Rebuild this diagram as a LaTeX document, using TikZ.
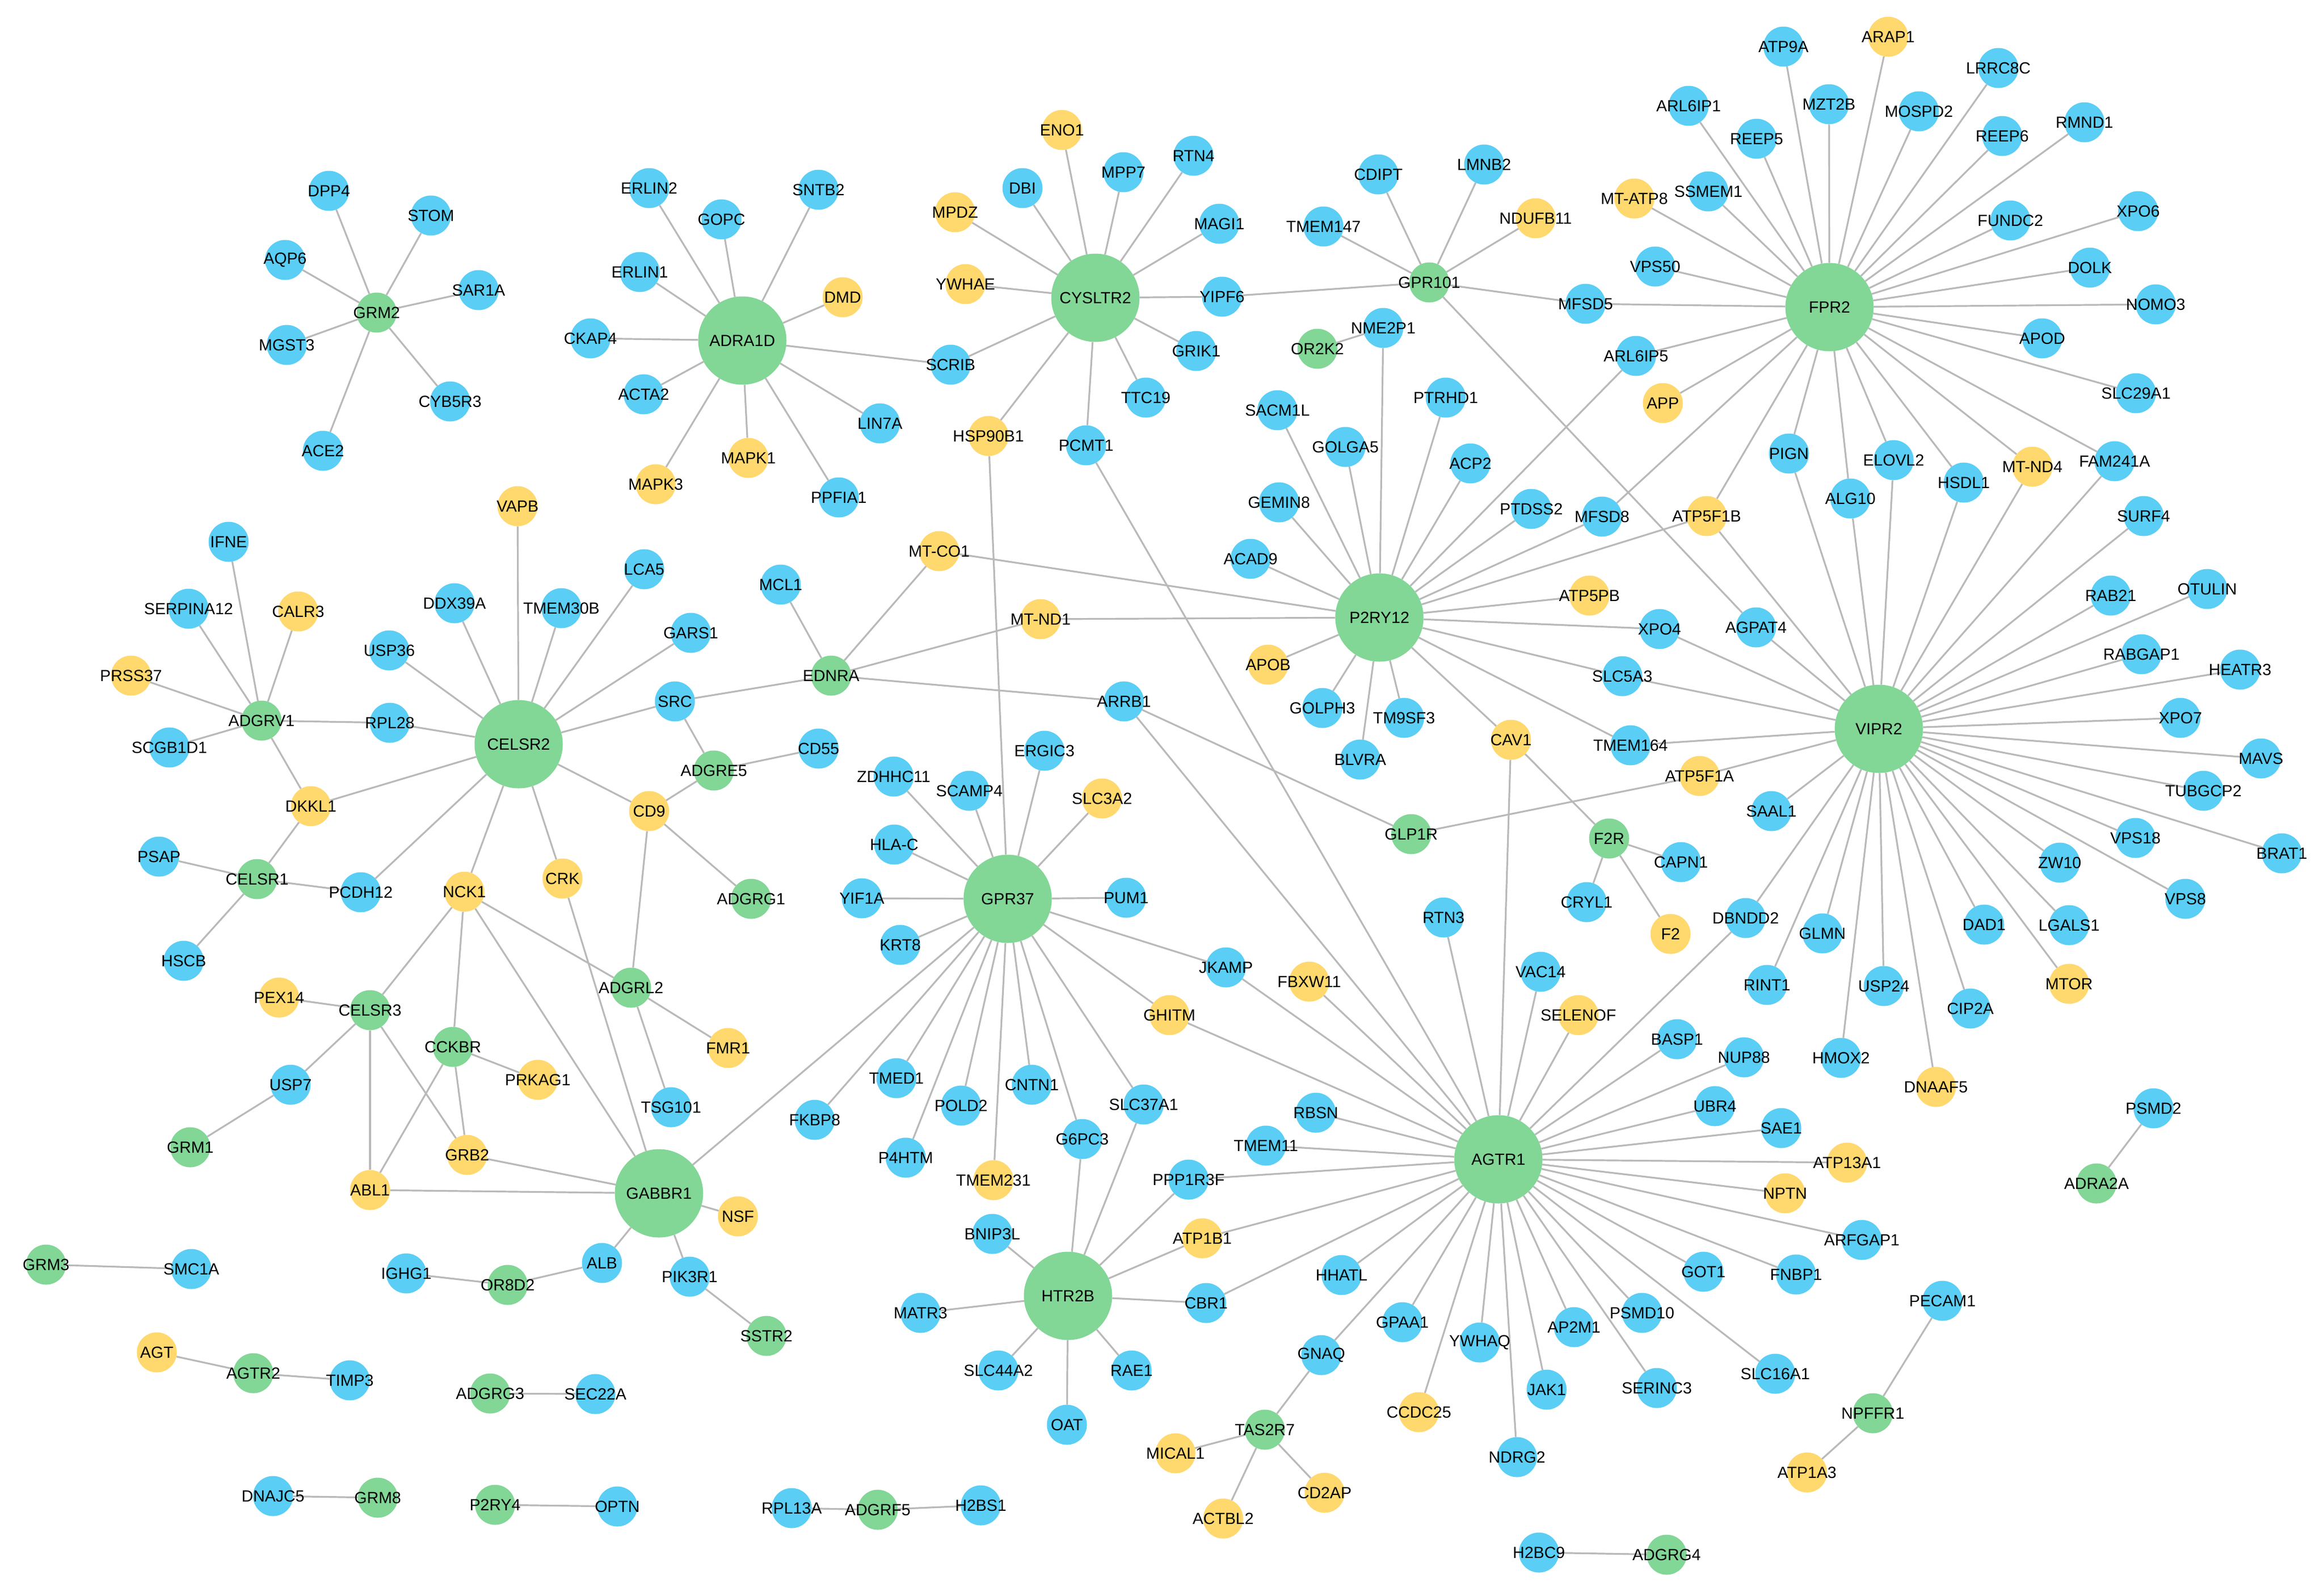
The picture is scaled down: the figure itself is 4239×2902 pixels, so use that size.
\documentclass[tikz,border=0pt]{standalone}
\usepackage{fontspec}
\setmainfont{Liberation Sans}
\usetikzlibrary{backgrounds}
\definecolor{cblue}{RGB}{90,206,245}
\definecolor{cgreen}{RGB}{130,214,150}
\definecolor{cyel}{RGB}{255,216,110}
\definecolor{cedge}{RGB}{185,185,185}
\newcommand\labfont{\fontsize{29.5}{32}\selectfont}
\newcommand\mknode[4]{\node[#1,label={[lab]center:#2}] (#2) at (#3,#4) {};}
\newcommand\mkedges[2]{\foreach \tgt in {#2} {\draw[edge] (#1) -- (\tgt);}}
\tikzset{
  nd/.style={circle, inner sep=0pt, minimum size=73pt, draw=none},
  bl/.style={nd, fill=cblue},
  ye/.style={nd, fill=cyel},
  gr/.style={nd, fill=cgreen},
  hub/.style={nd, fill=cgreen, minimum size=161pt},
  lab/.style={font=\labfont, text=black, inner sep=0pt},
  edge/.style={draw=cedge, line width=3.2pt}
}
\begin{document}
\begin{tikzpicture}[x=1pt,y=-1pt]
\useasboundingbox (0,0) rectangle (4239,2902);
% GRM2 cluster
\mknode{gr}{GRM2}{687}{570}
\mknode{bl}{DPP4}{600}{348}
\mknode{bl}{STOM}{786}{393}
\mknode{bl}{AQP6}{520}{474}
\mknode{bl}{SAR1A}{873}{529}
\mknode{bl}{MGST3}{523}{629}
\mknode{bl}{CYB5R3}{821}{732}
\mknode{bl}{ACE2}{589}{822}
% ADRA1D
\mknode{hub}{ADRA1D}{1354}{621}
\mknode{bl}{CKAP4}{1077}{617}
\mknode{bl}{ERLIN2}{1184}{343}
\mknode{bl}{GOPC}{1316}{400}
\mknode{bl}{SNTB2}{1493}{346}
\mknode{bl}{ERLIN1}{1167}{496}
\mknode{ye}{DMD}{1537}{542}
\mknode{bl}{ACTA2}{1174}{719}
\mknode{bl}{LIN7A}{1605}{772}
\mknode{ye}{MAPK1}{1365}{835}
\mknode{ye}{MAPK3}{1196}{883}
\mknode{bl}{PPFIA1}{1530}{907}
\mknode{bl}{SCRIB}{1734}{665}
% CYSLTR2
\mknode{hub}{CYSLTR2}{1998}{543}
\mknode{ye}{ENO1}{1937}{237}
\mknode{bl}{DBI}{1865}{343}
\mknode{bl}{MPP7}{2049}{314}
\mknode{ye}{MPDZ}{1742}{387}
\mknode{ye}{YWHAE}{1761}{518}
\mknode{bl}{RTN4}{2177}{284}
\mknode{bl}{MAGI1}{2224}{408}
\mknode{bl}{YIPF6}{2229}{541}
\mknode{bl}{GRIK1}{2182}{640}
\mknode{bl}{TTC19}{2090}{725}
\mknode{ye}{HSP90B1}{1803}{795}
\mknode{bl}{PCMT1}{1981}{812}
% GPR101
\mknode{gr}{GPR101}{2607}{515}
\mknode{bl}{CDIPT}{2514}{318}
\mknode{bl}{LMNB2}{2707}{300}
\mknode{bl}{TMEM147}{2414}{413}
\mknode{ye}{NDUFB11}{2801}{398}
\mknode{bl}{MFSD5}{2892}{554}
\mknode{gr}{OR2K2}{2403}{636}
\mknode{bl}{NME2P1}{2523}{598}
% FPR2
\mknode{hub}{FPR2}{3337}{560}
\mknode{bl}{ATP9A}{3253}{85}
\mknode{ye}{ARAP1}{3444}{67}
\mknode{bl}{LRRC8C}{3645}{124}
\mknode{bl}{ARL6IP1}{3080}{193}
\mknode{bl}{MZT2B}{3336}{190}
\mknode{bl}{MOSPD2}{3500}{203}
\mknode{bl}{RMND1}{3802}{223}
\mknode{bl}{REEP5}{3204}{253}
\mknode{bl}{REEP6}{3652}{248}
\mknode{ye}{MT-ATP8}{2981}{362}
\mknode{bl}{SSMEM1}{3116}{349}
\mknode{bl}{VPS50}{3019}{486}
\mknode{bl}{FUNDC2}{3667}{402}
\mknode{bl}{XPO6}{3900}{385}
\mknode{bl}{DOLK}{3812}{488}
\mknode{bl}{NOMO3}{3932}{555}
\mknode{bl}{APOD}{3725}{617}
\mknode{bl}{SLC29A1}{3896}{717}
\mknode{bl}{ARL6IP5}{2984}{649}
\mknode{ye}{APP}{3033}{735}
\mknode{bl}{PIGN}{3263}{827}
\mknode{bl}{ELOVL2}{3454}{839}
\mknode{bl}{HSDL1}{3582}{880}
\mknode{ye}{MT-ND4}{3707}{851}
\mknode{bl}{FAM241A}{3857}{841}
\mknode{bl}{ALG10}{3375}{909}
\mknode{ye}{ATP5F1B}{3113}{941}
\mknode{bl}{SURF4}{3910}{941}
\mknode{bl}{MFSD8}{2922}{942}
% P2RY12
\mknode{hub}{P2RY12}{2516}{1126}
\mknode{bl}{SACM1L}{2330}{748}
\mknode{bl}{PTRHD1}{2637}{725}
\mknode{bl}{GOLGA5}{2454}{815}
\mknode{bl}{ACP2}{2682}{845}
\mknode{bl}{GEMIN8}{2333}{916}
\mknode{bl}{PTDSS2}{2793}{928}
\mknode{bl}{ACAD9}{2281}{1019}
\mknode{ye}{ATP5PB}{2899}{1086}
\mknode{bl}{XPO4}{3027}{1147}
\mknode{ye}{APOB}{2313}{1212}
\mknode{bl}{SLC5A3}{2959}{1233}
\mknode{bl}{GOLPH3}{2412}{1291}
\mknode{bl}{TM9SF3}{2561}{1309}
\mknode{ye}{CAV1}{2756}{1349}
\mknode{bl}{TMEM164}{2974}{1359}
\mknode{bl}{BLVRA}{2481}{1385}
\mknode{ye}{ATP5F1A}{3100}{1415}
% VIPR2
\mknode{hub}{VIPR2}{3427}{1329}
\mknode{bl}{AGPAT4}{3203}{1144}
\mknode{bl}{RAB21}{3850}{1086}
\mknode{bl}{OTULIN}{4026}{1074}
\mknode{bl}{RABGAP1}{3906}{1193}
\mknode{bl}{HEATR3}{4086}{1221}
\mknode{bl}{XPO7}{3977}{1309}
\mknode{bl}{MAVS}{4124}{1383}
\mknode{bl}{TUBGCP2}{4019}{1442}
\mknode{bl}{SAAL1}{3231}{1479}
\mknode{bl}{VPS18}{3895}{1528}
\mknode{bl}{BRAT1}{4162}{1556}
\mknode{bl}{ZW10}{3757}{1573}
\mknode{bl}{VPS8}{3986}{1639}
\mknode{bl}{DBNDD2}{3184}{1674}
\mknode{bl}{GLMN}{3324}{1702}
\mknode{bl}{DAD1}{3619}{1686}
\mknode{bl}{LGALS1}{3774}{1687}
\mknode{bl}{RINT1}{3223}{1796}
\mknode{bl}{USP24}{3436}{1798}
\mknode{bl}{CIP2A}{3594}{1839}
\mknode{ye}{MTOR}{3774}{1794}
\mknode{bl}{NUP88}{3181}{1928}
\mknode{bl}{HMOX2}{3358}{1929}
\mknode{ye}{DNAAF5}{3531}{1982}
% left cluster
\mknode{ye}{VAPB}{944}{923}
\mknode{bl}{IFNE}{417}{988}
\mknode{bl}{SERPINA12}{344}{1110}
\mknode{ye}{CALR3}{544}{1115}
\mknode{bl}{DDX39A}{829}{1100}
\mknode{bl}{TMEM30B}{1024}{1109}
\mknode{bl}{USP36}{710}{1186}
\mknode{ye}{PRSS37}{239}{1232}
\mknode{gr}{ADGRV1}{477}{1314}
\mknode{bl}{RPL28}{711}{1318}
\mknode{hub}{CELSR2}{946}{1357}
\mknode{bl}{SCGB1D1}{309}{1363}
\mknode{ye}{DKKL1}{567}{1470}
\mknode{bl}{PSAP}{290}{1562}
\mknode{gr}{CELSR1}{469}{1603}
\mknode{bl}{PCDH12}{658}{1627}
\mknode{ye}{NCK1}{847}{1626}
\mknode{ye}{CRK}{1026}{1602}
\mknode{bl}{HSCB}{335}{1752}
\mknode{ye}{PEX14}{509}{1819}
\mknode{gr}{CELSR3}{675}{1842}
\mknode{gr}{CCKBR}{826}{1909}
\mknode{ye}{PRKAG1}{981}{1969}
\mknode{bl}{USP7}{530}{1978}
\mknode{gr}{GRM1}{347}{2092}
\mknode{ye}{GRB2}{852}{2106}
\mknode{ye}{ABL1}{675}{2170}
% middle
\mknode{bl}{LCA5}{1175}{1038}
\mknode{bl}{MCL1}{1424}{1066}
\mknode{ye}{MT-CO1}{1713}{1005}
\mknode{bl}{GARS1}{1260}{1154}
\mknode{ye}{MT-ND1}{1898}{1129}
\mknode{gr}{EDNRA}{1516}{1232}
\mknode{bl}{SRC}{1231}{1279}
\mknode{bl}{ARRB1}{2050}{1279}
\mknode{bl}{CD55}{1493}{1365}
\mknode{bl}{ERGIC3}{1905}{1369}
\mknode{gr}{ADGRE5}{1302}{1405}
\mknode{bl}{ZDHHC11}{1630}{1416}
\mknode{bl}{SCAMP4}{1768}{1442}
\mknode{ye}{SLC3A2}{2010}{1456}
\mknode{ye}{CD9}{1184}{1479}
\mknode{bl}{HLA-C}{1631}{1540}
\mknode{gr}{ADGRG1}{1370}{1639}
\mknode{bl}{YIF1A}{1572}{1638}
\mknode{hub}{GPR37}{1838}{1639}
\mknode{bl}{PUM1}{2054}{1637}
\mknode{bl}{KRT8}{1642}{1723}
\mknode{gr}{ADGRL2}{1151}{1801}
\mknode{ye}{FMR1}{1328}{1911}
\mknode{bl}{TMED1}{1635}{1966}
\mknode{bl}{CNTN1}{1882}{1978}
\mknode{gr}{GLP1R}{2574}{1521}
\mknode{gr}{F2R}{2935}{1529}
\mknode{bl}{CAPN1}{3066}{1572}
\mknode{bl}{CRYL1}{2894}{1645}
\mknode{bl}{RTN3}{2633}{1673}
\mknode{ye}{F2}{3047}{1703}
\mknode{bl}{JKAMP}{2236}{1764}
\mknode{ye}{FBXW11}{2388}{1790}
\mknode{bl}{VAC14}{2810}{1772}
\mknode{ye}{GHITM}{2133}{1851}
\mknode{ye}{SELENOF}{2879}{1851}
\mknode{bl}{BASP1}{3059}{1895}
% bottom
\mknode{bl}{TSG101}{1224}{2019}
\mknode{bl}{FKBP8}{1486}{2042}
\mknode{bl}{POLD2}{1753}{2016}
\mknode{bl}{SLC37A1}{2086}{2014}
\mknode{bl}{G6PC3}{1974}{2077}
\mknode{bl}{P4HTM}{1652}{2111}
\mknode{ye}{TMEM231}{1812}{2152}
\mknode{hub}{GABBR1}{1202}{2176}
\mknode{ye}{NSF}{1346}{2218}
\mknode{bl}{BNIP3L}{1810}{2250}
\mknode{bl}{ALB}{1098}{2303}
\mknode{bl}{PIK3R1}{1258}{2328}
\mknode{hub}{HTR2B}{1948}{2363}
\mknode{bl}{MATR3}{1679}{2394}
\mknode{gr}{SSTR2}{1398}{2436}
\mknode{bl}{SLC44A2}{1821}{2499}
\mknode{bl}{RAE1}{2064}{2499}
\mknode{bl}{SEC22A}{1086}{2542}
\mknode{bl}{OAT}{1946}{2598}
\mknode{bl}{OPTN}{1126}{2747}
\mknode{bl}{RPL13A}{1444}{2750}
\mknode{gr}{ADGRF5}{1601}{2753}
\mknode{bl}{H2BS1}{1789}{2745}
\mknode{gr}{GRM3}{84}{2306}
\mknode{bl}{SMC1A}{349}{2314}
\mknode{bl}{IGHG1}{741}{2322}
\mknode{gr}{OR8D2}{926}{2343}
\mknode{ye}{AGT}{286}{2466}
\mknode{gr}{AGTR2}{462}{2504}
\mknode{bl}{TIMP3}{638}{2517}
\mknode{gr}{ADGRG3}{894}{2541}
\mknode{bl}{DNAJC5}{498}{2728}
\mknode{gr}{GRM8}{689}{2731}
\mknode{gr}{P2RY4}{903}{2744}
% AGTR1
\mknode{hub}{AGTR1}{2733}{2114}
\mknode{bl}{RBSN}{2400}{2029}
\mknode{bl}{TMEM11}{2309}{2089}
\mknode{bl}{PPP1R3F}{2168}{2151}
\mknode{ye}{ATP1B1}{2193}{2258}
\mknode{bl}{HHATL}{2447}{2325}
\mknode{bl}{CBR1}{2200}{2376}
\mknode{bl}{GPAA1}{2558}{2411}
\mknode{bl}{YWHAQ}{2699}{2448}
\mknode{bl}{AP2M1}{2871}{2420}
\mknode{bl}{PSMD10}{2995}{2394}
\mknode{bl}{GNAQ}{2410}{2471}
\mknode{bl}{JAK1}{2821}{2534}
\mknode{bl}{SERINC3}{3022}{2531}
\mknode{ye}{CCDC25}{2588}{2575}
\mknode{gr}{TAS2R7}{2307}{2607}
\mknode{ye}{MICAL1}{2144}{2650}
\mknode{bl}{NDRG2}{2767}{2657}
\mknode{ye}{CD2AP}{2416}{2722}
\mknode{ye}{ACTBL2}{2231}{2769}
\mknode{bl}{H2BC9}{2807}{2831}
\mknode{gr}{ADGRG4}{3040}{2835}
\mknode{bl}{UBR4}{3128}{2017}
\mknode{bl}{PSMD2}{3928}{2021}
\mknode{bl}{SAE1}{3249}{2057}
\mknode{ye}{ATP13A1}{3369}{2120}
\mknode{ye}{NPTN}{3256}{2176}
\mknode{gr}{ADRA2A}{3824}{2158}
\mknode{bl}{ARFGAP1}{3396}{2261}
\mknode{bl}{GOT1}{3107}{2319}
\mknode{bl}{FNBP1}{3276}{2324}
\mknode{bl}{PECAM1}{3543}{2372}
\mknode{bl}{SLC16A1}{3238}{2505}
\mknode{gr}{NPFFR1}{3416}{2577}
\mknode{ye}{ATP1A3}{3296}{2685}
\begin{pgfonlayer}{background}
\fill[white] (0,0) rectangle (4239,2902);
\mkedges{GRM2}{DPP4,STOM,AQP6,SAR1A,MGST3,CYB5R3,ACE2}
\mkedges{ADRA1D}{CKAP4,ERLIN2,GOPC,SNTB2,ERLIN1,DMD,ACTA2,LIN7A,MAPK1,MAPK3,PPFIA1,SCRIB}
\mkedges{CYSLTR2}{SCRIB,ENO1,DBI,MPP7,MPDZ,YWHAE,RTN4,MAGI1,YIPF6,GRIK1,TTC19,HSP90B1,PCMT1}
\mkedges{GPR101}{YIPF6,CDIPT,LMNB2,TMEM147,NDUFB11,MFSD5,AGPAT4}
\mkedges{NME2P1}{OR2K2,P2RY12}
\mkedges{FPR2}{MFSD5,ATP9A,ARAP1,LRRC8C,ARL6IP1,MZT2B,MOSPD2,RMND1,REEP5,REEP6,MT-ATP8,SSMEM1,VPS50,FUNDC2,XPO6,DOLK,NOMO3,APOD,SLC29A1,ARL6IP5,APP,PIGN,ELOVL2,HSDL1,MT-ND4,FAM241A,ALG10,ATP5F1B,MFSD8}
\mkedges{P2RY12}{SACM1L,PTRHD1,GOLGA5,ACP2,GEMIN8,PTDSS2,ACAD9,ATP5PB,XPO4,APOB,SLC5A3,GOLPH3,TM9SF3,CAV1,TMEM164,BLVRA,MT-CO1,MT-ND1,ARL6IP5,MFSD8,ATP5F1B}
\mkedges{VIPR2}{AGPAT4,PIGN,ALG10,ELOVL2,HSDL1,MT-ND4,FAM241A,SURF4,ATP5F1B,XPO4,SLC5A3,TMEM164,ATP5F1A,SAAL1,RAB21,OTULIN,RABGAP1,HEATR3,XPO7,MAVS,TUBGCP2,BRAT1,VPS18,VPS8,ZW10,LGALS1,MTOR,DAD1,CIP2A,DNAAF5,USP24,HMOX2,RINT1,GLMN,DBNDD2}
\mkedges{GLP1R}{ARRB1,ATP5F1A}
\mkedges{F2R}{CAV1,CAPN1,CRYL1,F2}
\mkedges{EDNRA}{MCL1,MT-CO1,MT-ND1,SRC,ARRB1}
\mkedges{CELSR2}{VAPB,DDX39A,TMEM30B,LCA5,GARS1,SRC,USP36,RPL28,DKKL1,PCDH12,NCK1,CRK,CD9}
\mkedges{ADGRV1}{IFNE,SERPINA12,CALR3,PRSS37,SCGB1D1,RPL28,DKKL1}
\mkedges{CELSR1}{DKKL1,PSAP,PCDH12,HSCB}
\mkedges{ADGRE5}{SRC,CD55,CD9}
\mkedges{CD9}{ADGRG1,ADGRL2}
\mkedges{ADGRL2}{NCK1,FMR1,TSG101}
\mkedges{NCK1}{CELSR3,CCKBR,GABBR1}
\mkedges{CELSR3}{PEX14,USP7,ABL1,GRB2}
\mkedges{USP7}{GRM1}
\mkedges{CCKBR}{PRKAG1,GRB2,ABL1}
\mkedges{GABBR1}{ABL1,GRB2,CRK,NSF,ALB,PIK3R1,GPR37}
\mkedges{PIK3R1}{SSTR2}
\mkedges{OR8D2}{ALB,IGHG1}
\mkedges{GPR37}{HSP90B1,ZDHHC11,SCAMP4,ERGIC3,SLC3A2,HLA-C,YIF1A,PUM1,KRT8,JKAMP,GHITM,SLC37A1,TMED1,POLD2,CNTN1,FKBP8,P4HTM,TMEM231,G6PC3}
\mkedges{HTR2B}{G6PC3,SLC37A1,BNIP3L,MATR3,SLC44A2,OAT,RAE1,CBR1,ATP1B1,PPP1R3F}
\mkedges{AGTR1}{PCMT1,ARRB1,CAV1,JKAMP,FBXW11,GHITM,RTN3,VAC14,SELENOF,BASP1,DBNDD2,NUP88,UBR4,SAE1,ATP13A1,NPTN,ARFGAP1,GOT1,FNBP1,SLC16A1,SERINC3,PSMD10,AP2M1,JAK1,NDRG2,YWHAQ,CCDC25,GPAA1,GNAQ,HHATL,CBR1,ATP1B1,PPP1R3F,TMEM11,RBSN}
\mkedges{TAS2R7}{GNAQ,MICAL1,ACTBL2,CD2AP}
\mkedges{GRM3}{SMC1A}
\mkedges{AGTR2}{AGT,TIMP3}
\mkedges{ADGRG3}{SEC22A}
\mkedges{GRM8}{DNAJC5}
\mkedges{P2RY4}{OPTN}
\mkedges{ADGRF5}{RPL13A,H2BS1}
\mkedges{ADGRG4}{H2BC9}
\mkedges{ADRA2A}{PSMD2}
\mkedges{NPFFR1}{PECAM1,ATP1A3}
\end{pgfonlayer}
\end{tikzpicture}
\end{document}
